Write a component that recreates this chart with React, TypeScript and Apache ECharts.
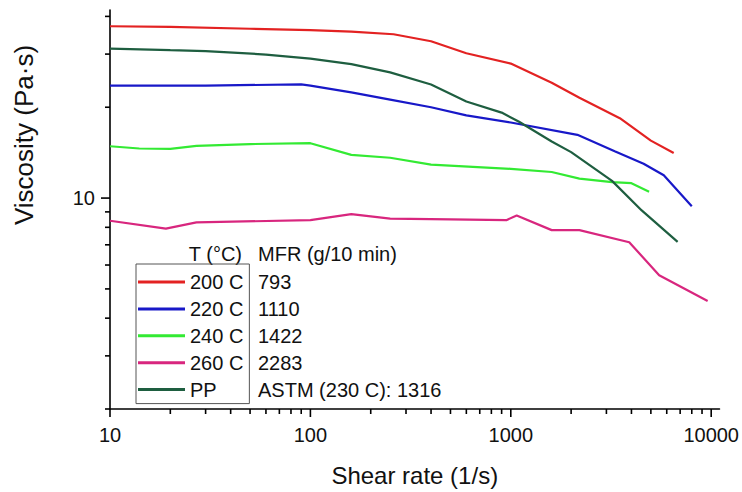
import React, { useEffect, useRef } from "react";
import * as echarts from "echarts";

const seriesNames = ["200 C", "220 C", "240 C", "260 C", "PP"];
const seriesColors = ["#e32222", "#1818c8", "#33ea33", "#d8267e", "#1e5e40"];
const mfrHeader = "MFR (g/10 min)";
const tempHeader = "T (°C)";
const mfrLabels = ["793", "1110", "1422", "2283", "ASTM (230 C): 1316"];

const shear200 = [10, 20, 50, 100, 160, 260, 400, 600, 1000, 1600, 2200, 3500, 5000, 6500];
const visc200 = [37.1, 36.9, 36.4, 36.0, 35.6, 34.9, 33.1, 30.2, 27.9, 24.1, 21.5, 18.4, 15.5, 14.1];

const shear220 = [10, 30, 90, 100, 160, 250, 400, 600, 1000, 2150, 3300, 4600, 5800, 8000];
const visc220 = [23.6, 23.6, 23.8, 23.6, 22.4, 21.2, 20.0, 18.8, 17.8, 16.2, 14.3, 13.0, 11.9, 9.4];

const shear240 = [10, 14, 20, 27, 50, 100, 160, 250, 400, 1000, 1600, 2200, 3200, 4000, 4900];
const visc240 = [14.85, 14.6, 14.55, 14.9, 15.1, 15.2, 13.9, 13.6, 12.9, 12.5, 12.2, 11.6, 11.3, 11.2, 10.5];

const shear260 = [10, 19, 27, 100, 160, 250, 500, 950, 1070, 1600, 2200, 3900, 5500, 9600];
const visc260 = [8.41, 7.92, 8.31, 8.45, 8.85, 8.55, 8.5, 8.45, 8.76, 7.83, 7.83, 7.14, 5.55, 4.56];

const shearPP = [10, 20, 30, 60, 100, 160, 250, 400, 600, 900, 1100, 1600, 2000, 3200, 4500, 6800];
const viscPP = [31.3, 30.9, 30.7, 29.9, 29.0, 27.8, 26.1, 23.8, 20.9, 19.2, 17.9, 15.4, 14.2, 11.4, 9.1, 7.16];

const xMajorTicks = [10, 100, 1000, 10000];
const xMinorTicks = [20, 30, 40, 50, 60, 70, 80, 90, 200, 300, 400, 500, 600, 700, 800, 900, 2000, 3000, 4000, 5000, 6000, 7000, 8000, 9000];
const yMajorTicks = [10];
const yMinorTicks = [2, 3, 4, 5, 6, 7, 8, 9, 20, 30, 40];

const xMin = 10;
const xMax = 11000;
const yMin = 2;
const yMax = 42;

const xTitle = "Shear rate (1/s)";
const yTitle = "Viscosity (Pa·s)";

const FONT = "'Liberation Sans', Arial, sans-serif";

export default function App() {
  const ref = useRef<HTMLDivElement>(null);
  useEffect(() => {
    if (!ref.current) return;
    const chart = echarts.init(ref.current, undefined, { renderer: "svg" });
    const xs = [shear200, shear220, shear240, shear260, shearPP];
    const ys = [visc200, visc220, visc240, visc260, viscPP];
    const series: any[] = seriesNames.map((name, i) => ({
      name,
      type: "line",
      data: xs[i].map((x, j) => [x, ys[i][j]]),
      symbol: "none",
      xAxisIndex: 0,
      yAxisIndex: 0,
      lineStyle: { width: 2.2, color: seriesColors[i] },
      itemStyle: { color: seriesColors[i] },
      silent: true,
    }));

    // tick marks: [x, y, direction(0 = x axis, 1 = y axis), length]
    const tickData: number[][] = [
      ...xMajorTicks.map((v) => [v, yMin, 0, 8]),
      ...xMinorTicks.map((v) => [v, yMin, 0, 5]),
      ...yMajorTicks.map((v) => [xMin, v, 1, 9]),
      ...yMinorTicks.map((v) => [xMin, v, 1, 5]),
    ];
    series.push({
      name: "ticks",
      type: "custom",
      silent: true,
      clip: false,
      z: 10,
      xAxisIndex: 0,
      yAxisIndex: 0,
      dimensions: ["x", "y", "d", "len"],
      encode: { x: 0, y: 1 },
      data: tickData,
      renderItem: (params: any, api: any) => {
        const p = api.coord([api.value(0), api.value(1)]);
        const d = api.value(2);
        const len = api.value(3);
        const shape =
          d === 0
            ? { x1: p[0], y1: p[1], x2: p[0], y2: p[1] + len }
            : { x1: p[0], y1: p[1], x2: p[0] - len, y2: p[1] };
        return { type: "line", shape, style: { stroke: "#000", lineWidth: 1.6 } };
      },
    });

    const legendTop = 264;
    const padTop = 8;
    const rowH = 20;
    const gap = 6.9;
    const graphics: any[] = [
      {
        type: "text",
        x: 24,
        y: 135,
        rotation: Math.PI / 2,
        style: { text: yTitle, font: `26px ${FONT}`, fill: "#111", align: "center", verticalAlign: "middle" },
      },
      {
        type: "text",
        x: 242,
        y: 253.5,
        style: { text: tempHeader, font: `20px ${FONT}`, fill: "#111", align: "right", verticalAlign: "middle" },
      },
      {
        type: "text",
        x: 258,
        y: 253.5,
        style: { text: mfrHeader, font: `20px ${FONT}`, fill: "#111", align: "left", verticalAlign: "middle" },
      },
      ...mfrLabels.map((t, i) => ({
        type: "text",
        x: 258,
        y: legendTop + padTop + rowH / 2 + i * (rowH + gap),
        style: { text: t, font: `20px ${FONT}`, fill: "#111", align: "left", verticalAlign: "middle" },
      })),
    ];

    chart.setOption({
      animation: false,
      backgroundColor: "#fff",
      textStyle: { fontFamily: FONT },
      grid: { left: 110, right: 22, top: 10, bottom: 80, containLabel: false },
      legend: {
        data: seriesNames,
        orient: "vertical",
        left: 136,
        top: legendTop,
        padding: [padTop, 6, 4, 2],
        itemWidth: 47,
        itemHeight: 3,
        itemGap: gap,
        icon: "rect",
        borderColor: "#555",
        borderWidth: 1,
        textStyle: { fontSize: 20, lineHeight: rowH, color: "#111", fontFamily: FONT },
        selectedMode: false,
      },
      xAxis: {
        type: "log",
        logBase: 10,
        min: xMin,
        max: xMax,
        position: "bottom",
        name: xTitle,
        nameLocation: "middle",
        nameGap: 54,
        nameTextStyle: { fontSize: 24, color: "#111", fontFamily: FONT },
        axisLine: { show: true, lineStyle: { color: "#000", width: 1.6 } },
        axisTick: { show: false },
        axisLabel: {
          show: true,
          margin: 16,
          fontSize: 20,
          color: "#111",
          fontFamily: FONT,
          customValues: xMajorTicks,
          formatter: (v: number) => String(Math.round(v)),
        },
        splitLine: { show: false },
      },
      yAxis: {
        type: "log",
        logBase: 10,
        min: yMin,
        max: yMax,
        position: "left",
        axisLine: { show: true, lineStyle: { color: "#000", width: 1.6 } },
        axisTick: { show: false },
        axisLabel: {
          show: true,
          margin: 15,
          fontSize: 20,
          color: "#111",
          fontFamily: FONT,
          customValues: yMajorTicks,
          formatter: (v: number) => String(Math.round(v)),
        },
        splitLine: { show: false },
      },
      series,
      graphic: graphics,
    });
    return () => chart.dispose();
  }, []);
  return (
    <div
      ref={ref}
      style={{ position: "fixed", left: 0, top: 0, width: 742, height: 492, background: "#fff" }}
    />
  );
}
